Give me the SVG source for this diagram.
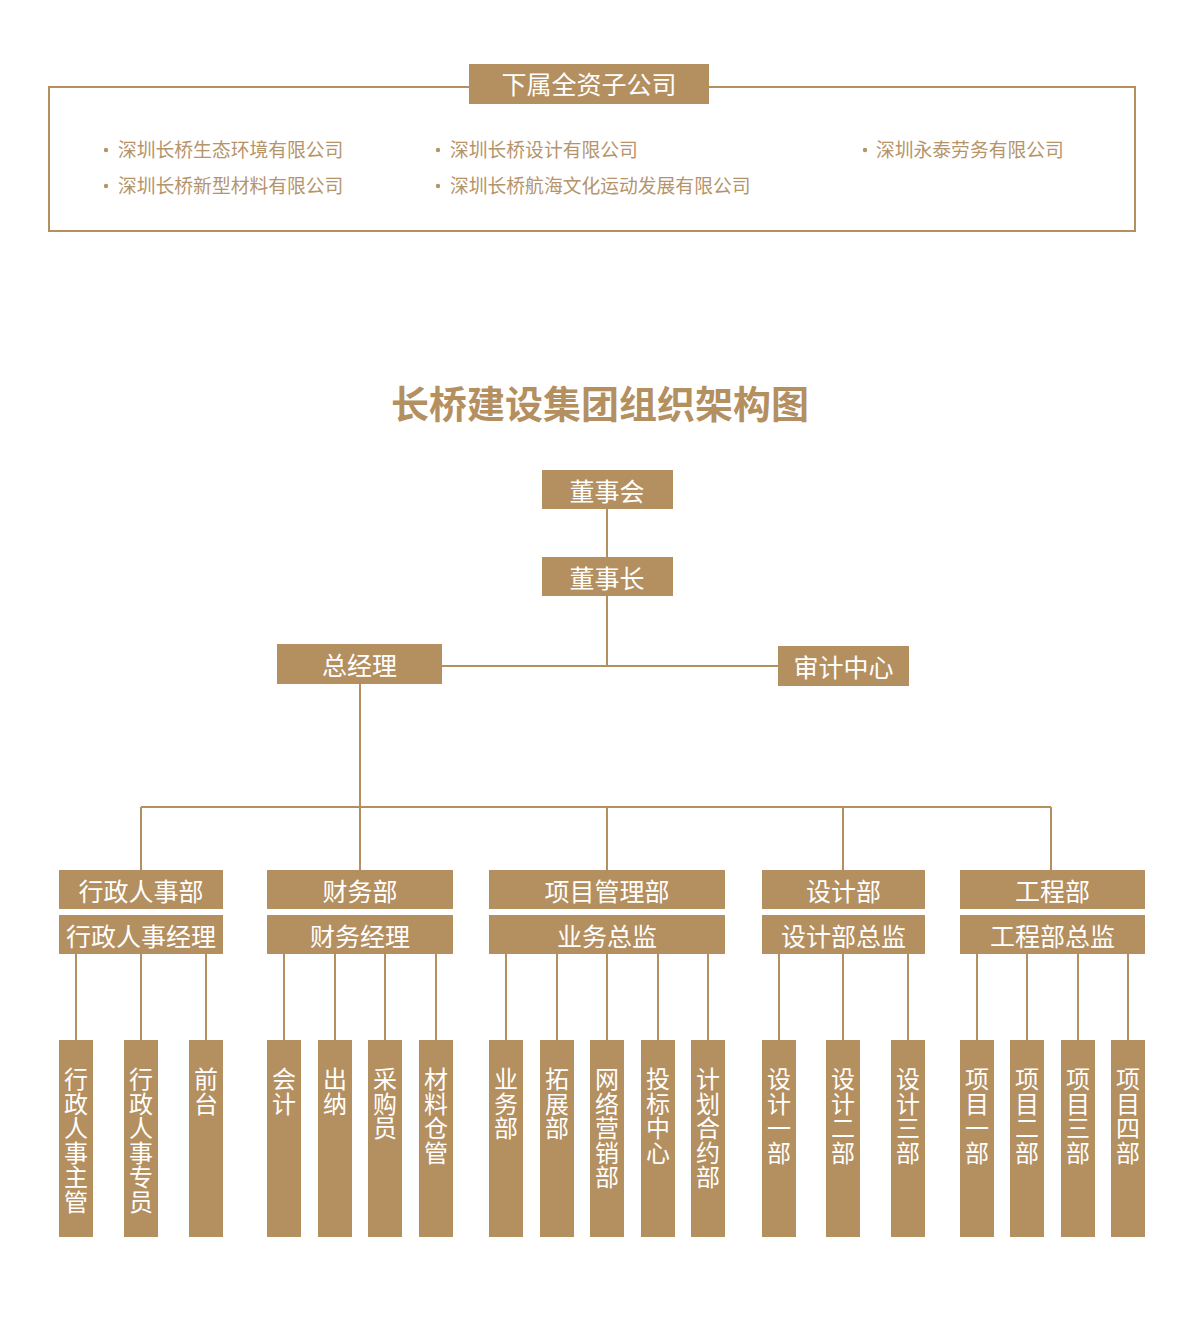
<svg xmlns="http://www.w3.org/2000/svg" width="1182" height="1335" viewBox="0 0 1182 1335">
<style>
.box{fill:#B48F5F}
.ln{stroke:#B48F5F;stroke-width:2;fill:none}
.t{font-family:"Noto Sans CJK SC","Noto Sans",sans-serif;fill:#FFFFFF;font-size:25px;text-anchor:middle;dominant-baseline:central}
.v{font-family:"Noto Sans CJK SC","Noto Sans",sans-serif;fill:#FFFFFF;font-size:24px;text-anchor:middle;dominant-baseline:central}
.li{font-family:"Noto Sans CJK SC","Noto Sans",sans-serif;fill:#B6946A;font-size:18.8px;dominant-baseline:central}
.dot{fill:#B6946A}
.title{font-family:"Noto Sans CJK SC","Noto Sans",sans-serif;fill:#B48F5F;font-size:38px;font-weight:bold;text-anchor:middle;dominant-baseline:central}
</style>
<rect width="1182" height="1335" fill="#FFFFFF"/>

<g id="subsidiaries">
<rect x="49" y="87" width="1086" height="144" class="ln"/>
<rect x="469" y="64" width="240" height="40" class="box"/>
<text x="589" y="83" class="t">下属全资子公司</text>
<circle cx="106" cy="150" r="2.2" class="dot"/>
<text x="118" y="148.5" class="li">深圳长桥生态环境有限公司</text>
<circle cx="106" cy="186" r="2.2" class="dot"/>
<text x="118" y="184.5" class="li">深圳长桥新型材料有限公司</text>
<circle cx="438" cy="150" r="2.2" class="dot"/>
<text x="450" y="148.5" class="li">深圳长桥设计有限公司</text>
<circle cx="438" cy="186" r="2.2" class="dot"/>
<text x="450" y="184.5" class="li">深圳长桥航海文化运动发展有限公司</text>
<circle cx="865" cy="150" r="2.2" class="dot"/>
<text x="876" y="148.5" class="li">深圳永泰劳务有限公司</text>
</g>

<text x="600" y="401" class="title">长桥建设集团组织架构图</text>

<g id="connectors">
<path class="ln" d="M607 509V557M607 596V666M442 666H778"/>
<path class="ln" d="M360 684V807M141 807H1051M141 807V870M360 807V870M607 807V870M843 807V870M1051 807V870"/>
<path class="ln" d="M76 954V1040M141 954V1040M206 954V1040"/>
<path class="ln" d="M284 954V1040M335 954V1040M385 954V1040M436 954V1040"/>
<path class="ln" d="M506 954V1040M557 954V1040M607 954V1040M658 954V1040M708 954V1040"/>
<path class="ln" d="M779 954V1040M843 954V1040M908 954V1040"/>
<path class="ln" d="M977 954V1040M1027 954V1040M1078 954V1040M1128 954V1040"/>
</g>

<g id="n-board"><rect x="542" y="470" width="131" height="39" class="box"/><text x="607" y="489.5" class="t">董事会</text></g>
<g id="n-chairman"><rect x="542" y="557" width="131" height="39" class="box"/><text x="607" y="576.5" class="t">董事长</text></g>
<g id="n-gm"><rect x="277" y="644" width="165" height="40" class="box"/><text x="359.5" y="664" class="t">总经理</text></g>
<g id="n-audit"><rect x="778" y="646" width="131" height="40" class="box"/><text x="843.5" y="666" class="t">审计中心</text></g>

<g id="n-admin"><rect x="59" y="870" width="164" height="39" class="box"/><text x="141" y="889.5" class="t">行政人事部</text></g>
<g id="n-admin-mgr"><rect x="59" y="915" width="164" height="39" class="box"/><text x="141" y="934.5" class="t">行政人事经理</text></g>
<g id="n-fin"><rect x="267" y="870" width="186" height="39" class="box"/><text x="360" y="889.5" class="t">财务部</text></g>
<g id="n-fin-mgr"><rect x="267" y="915" width="186" height="39" class="box"/><text x="360" y="934.5" class="t">财务经理</text></g>
<g id="n-pm"><rect x="489" y="870" width="236" height="39" class="box"/><text x="607" y="889.5" class="t">项目管理部</text></g>
<g id="n-pm-dir"><rect x="489" y="915" width="236" height="39" class="box"/><text x="607" y="934.5" class="t">业务总监</text></g>
<g id="n-design"><rect x="762" y="870" width="163" height="39" class="box"/><text x="843.5" y="889.5" class="t">设计部</text></g>
<g id="n-design-dir"><rect x="762" y="915" width="163" height="39" class="box"/><text x="843.5" y="934.5" class="t">设计部总监</text></g>
<g id="n-eng"><rect x="960" y="870" width="185" height="39" class="box"/><text x="1052.5" y="889.5" class="t">工程部</text></g>
<g id="n-eng-dir"><rect x="960" y="915" width="185" height="39" class="box"/><text x="1052.5" y="934.5" class="t">工程部总监</text></g>

<g id="n-a1"><rect x="59" y="1040" width="34" height="197" class="box"/><text class="v"><tspan x="76" y="1077">行</tspan><tspan x="76" y="1101.5">政</tspan><tspan x="76" y="1126">人</tspan><tspan x="76" y="1150.5">事</tspan><tspan x="76" y="1175">主</tspan><tspan x="76" y="1199.5">管</tspan></text></g>
<g id="n-a2"><rect x="124" y="1040" width="34" height="197" class="box"/><text class="v"><tspan x="141" y="1077">行</tspan><tspan x="141" y="1101.5">政</tspan><tspan x="141" y="1126">人</tspan><tspan x="141" y="1150.5">事</tspan><tspan x="141" y="1175">专</tspan><tspan x="141" y="1199.5">员</tspan></text></g>
<g id="n-a3"><rect x="189" y="1040" width="34" height="197" class="box"/><text class="v"><tspan x="206" y="1077">前</tspan><tspan x="206" y="1101.5">台</tspan></text></g>

<g id="n-f1"><rect x="267" y="1040" width="34" height="197" class="box"/><text class="v"><tspan x="284" y="1077">会</tspan><tspan x="284" y="1101.5">计</tspan></text></g>
<g id="n-f2"><rect x="318" y="1040" width="34" height="197" class="box"/><text class="v"><tspan x="335" y="1077">出</tspan><tspan x="335" y="1101.5">纳</tspan></text></g>
<g id="n-f3"><rect x="368" y="1040" width="34" height="197" class="box"/><text class="v"><tspan x="385" y="1077">采</tspan><tspan x="385" y="1101.5">购</tspan><tspan x="385" y="1126">员</tspan></text></g>
<g id="n-f4"><rect x="419" y="1040" width="34" height="197" class="box"/><text class="v"><tspan x="436" y="1077">材</tspan><tspan x="436" y="1101.5">料</tspan><tspan x="436" y="1126">仓</tspan><tspan x="436" y="1150.5">管</tspan></text></g>

<g id="n-p1"><rect x="489" y="1040" width="34" height="197" class="box"/><text class="v"><tspan x="506" y="1077">业</tspan><tspan x="506" y="1101.5">务</tspan><tspan x="506" y="1126">部</tspan></text></g>
<g id="n-p2"><rect x="540" y="1040" width="34" height="197" class="box"/><text class="v"><tspan x="557" y="1077">拓</tspan><tspan x="557" y="1101.5">展</tspan><tspan x="557" y="1126">部</tspan></text></g>
<g id="n-p3"><rect x="590" y="1040" width="34" height="197" class="box"/><text class="v"><tspan x="607" y="1077">网</tspan><tspan x="607" y="1101.5">络</tspan><tspan x="607" y="1126">营</tspan><tspan x="607" y="1150.5">销</tspan><tspan x="607" y="1175">部</tspan></text></g>
<g id="n-p4"><rect x="641" y="1040" width="34" height="197" class="box"/><text class="v"><tspan x="658" y="1077">投</tspan><tspan x="658" y="1101.5">标</tspan><tspan x="658" y="1126">中</tspan><tspan x="658" y="1150.5">心</tspan></text></g>
<g id="n-p5"><rect x="691" y="1040" width="34" height="197" class="box"/><text class="v"><tspan x="708" y="1077">计</tspan><tspan x="708" y="1101.5">划</tspan><tspan x="708" y="1126">合</tspan><tspan x="708" y="1150.5">约</tspan><tspan x="708" y="1175">部</tspan></text></g>

<g id="n-d1"><rect x="762" y="1040" width="34" height="197" class="box"/><text class="v"><tspan x="779" y="1077">设</tspan><tspan x="779" y="1101.5">计</tspan><tspan x="779" y="1126">一</tspan><tspan x="779" y="1150.5">部</tspan></text></g>
<g id="n-d2"><rect x="826" y="1040" width="34" height="197" class="box"/><text class="v"><tspan x="843" y="1077">设</tspan><tspan x="843" y="1101.5">计</tspan><tspan x="843" y="1126">二</tspan><tspan x="843" y="1150.5">部</tspan></text></g>
<g id="n-d3"><rect x="891" y="1040" width="34" height="197" class="box"/><text class="v"><tspan x="908" y="1077">设</tspan><tspan x="908" y="1101.5">计</tspan><tspan x="908" y="1126">三</tspan><tspan x="908" y="1150.5">部</tspan></text></g>

<g id="n-e1"><rect x="960" y="1040" width="34" height="197" class="box"/><text class="v"><tspan x="977" y="1077">项</tspan><tspan x="977" y="1101.5">目</tspan><tspan x="977" y="1126">一</tspan><tspan x="977" y="1150.5">部</tspan></text></g>
<g id="n-e2"><rect x="1010" y="1040" width="34" height="197" class="box"/><text class="v"><tspan x="1027" y="1077">项</tspan><tspan x="1027" y="1101.5">目</tspan><tspan x="1027" y="1126">二</tspan><tspan x="1027" y="1150.5">部</tspan></text></g>
<g id="n-e3"><rect x="1061" y="1040" width="34" height="197" class="box"/><text class="v"><tspan x="1078" y="1077">项</tspan><tspan x="1078" y="1101.5">目</tspan><tspan x="1078" y="1126">三</tspan><tspan x="1078" y="1150.5">部</tspan></text></g>
<g id="n-e4"><rect x="1111" y="1040" width="34" height="197" class="box"/><text class="v"><tspan x="1128" y="1077">项</tspan><tspan x="1128" y="1101.5">目</tspan><tspan x="1128" y="1126">四</tspan><tspan x="1128" y="1150.5">部</tspan></text></g>
</svg>
